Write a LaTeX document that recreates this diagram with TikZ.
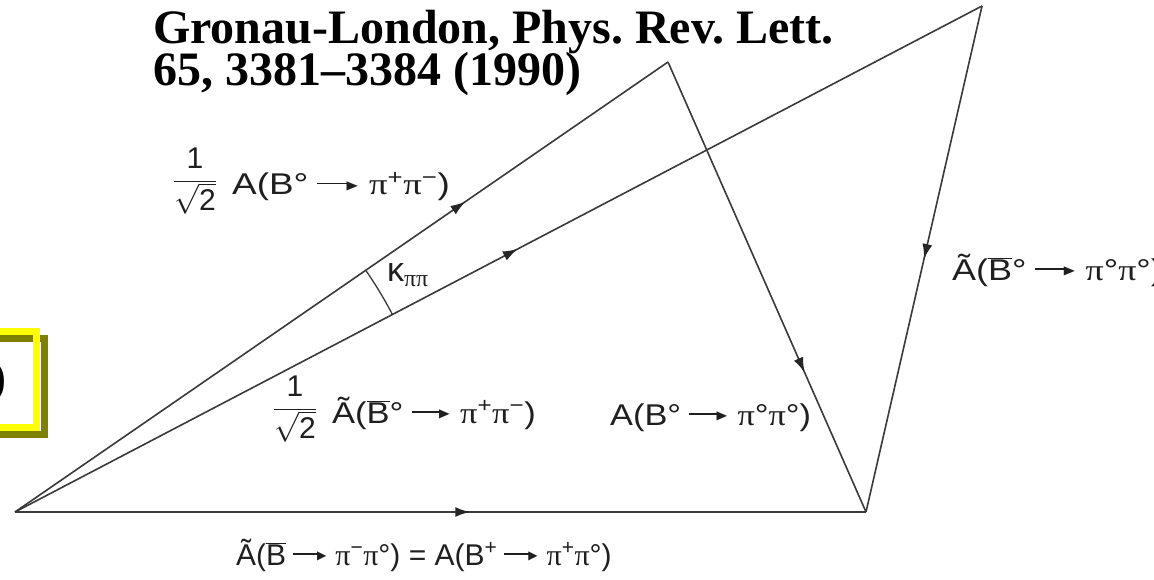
\RequirePackage{fix-cm}
\documentclass[tikz,border=0pt]{standalone}
\usepackage{fontspec}
\setmainfont{Liberation Serif}
\setsansfont{Liberation Sans}
\newfontfamily\dejavu{DejaVu Sans}
\usetikzlibrary{arrows.meta,decorations.markings}
\definecolor{linegray}{HTML}{3A3A3A}
\definecolor{shadowolive}{HTML}{808000}
\definecolor{boxyellow}{HTML}{FFFF00}
\newcommand{\pip}{{\rmfamily π}}
\newcommand{\arr}{\hspace{7pt}\rule[10.5pt]{27pt}{1.4pt}\kern-3pt\raisebox{5.5pt}{\dejavu\fontsize{12}{12}\selectfont ▶}\hspace{9pt}}
\newcommand{\ob}[1]{$\overline{\mbox{#1}}$}
\newcommand{\sps}[1]{\textsuperscript{#1}}
\newcommand{\invsqrttwo}{$\displaystyle\frac{\mbox{1}}{\sqrt{\mbox{2}}}$}
\newcommand{\wide}[2]{\scalebox{#1}[1]{#2}}
\begin{document}
\begin{tikzpicture}[x=1pt,y=-1pt,
  vec/.style={draw=linegray,line width=1.6pt},
  midarrow/.style={postaction={decorate},decoration={markings,mark=at position #1 with {\arrow[color=black!85]{Latex[length=15pt,width=10pt]}}}},
  lab/.style={font=\sffamily\fontsize{30}{34}\selectfont,inner sep=0pt,text=black!88},
  titletext/.style={font=\rmfamily\bfseries\fontsize{48}{48}\selectfont\frenchspacing,inner sep=0pt,text=black,anchor=base west},
]
\useasboundingbox (0,0) rectangle (1154,580);
\fill[white] (0,0) rectangle (1154,580);

% highlighted box at the left edge
\draw[shadowolive,line width=7pt] (-50,338.5) rectangle (44,434);
\draw[boxyellow,line width=7pt] (-50,331) rectangle (36.5,427);
\node[font=\rmfamily\bfseries\fontsize{48}{48}\selectfont,inner sep=0pt,anchor=base east] (cut) at (7,393) {)};

% title
\node[titletext] (t1) at (153,44) {Gronau-London, Phys. Rev. Lett.};
\node[titletext] (t2) at (153,86) {65, 3381–3384 (1990)};

% vertices
\coordinate (O) at (15,512);
\coordinate (P) at (668,62);
\coordinate (Q) at (982,6);
\coordinate (C) at (866,512);

% vectors
\draw[vec,midarrow=0.69] (O) -- (P);
\draw[vec,midarrow=0.52] (O) -- (Q);
\draw[vec,midarrow=0.69] (P) -- (C);
\draw[vec,midarrow=0.50] (Q) -- (C);
\draw[vec,line width=2.4pt,midarrow=0.535] (O) -- (C);

% angle
\draw[linegray,line width=1.3pt] (O) ++(-34.5:426) arc[start angle=-34.5,end angle=-27.6,radius=426];
\node[lab,anchor=base west,font=\sffamily\fontsize{34}{36}\selectfont] (kap) at (387,281) {κ\textsubscript{\pip\pip}};

% labels
\node[lab] (f1) at (195,181) {\invsqrttwo};
\node[lab,anchor=base west] (l1) at (232,195) {\wide{1.23}{A(B°\arr\pip\sps{+}\pip\sps{−})}};

\node[lab] (f2) at (295,409) {\invsqrttwo};
\node[lab,anchor=base west] (l2) at (332,423) {\wide{1.15}{\~A(\ob{B}°\arr\pip\sps{+}\pip\sps{−})}};

\node[lab,anchor=base west] (l3) at (610,425) {\wide{1.145}{A(B°\arr\pip°\pip°)}};

\node[lab,anchor=base west] (l4) at (236,565) {\~A(\ob{B}\arr\pip\sps{−}\pip°) = A(B\sps{+}\arr\pip\sps{+}\pip°)};

\node[lab,anchor=base west] (l5) at (952,280) {\wide{1.2}{\~A(\ob{B}°\arr\pip°\pip°)}};
\end{tikzpicture}
\end{document}
